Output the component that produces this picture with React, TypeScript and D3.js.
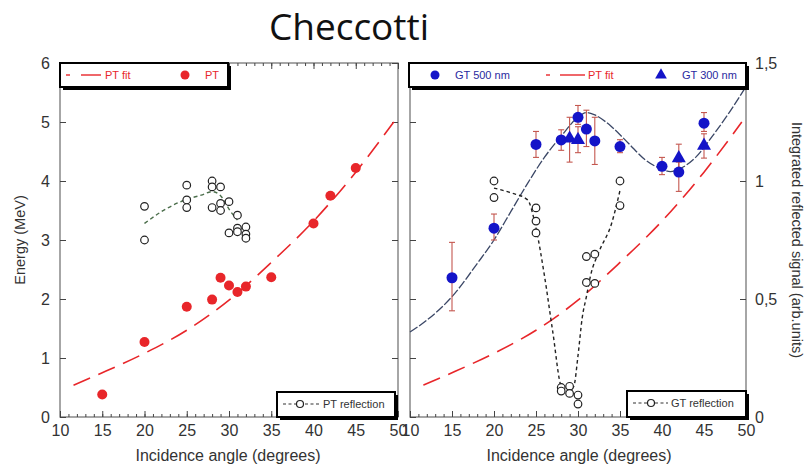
import * as d3 from "d3";
import { useEffect, useRef } from "react";

const W = 808;
const H = 466;
const leftBox = { x0: 60, x1: 398, y0: 63, y1: 417 };
const rightBox = { x0: 410, x1: 746, y0: 63, y1: 417 };
const AXIS_FONT = "'Liberation Sans', Arial, sans-serif";

// left panel: PT energies
const ptAngle = [15, 20, 25, 28, 29, 30, 31, 32, 35, 40, 42, 45];
const ptEnergy = [0.38, 1.27, 1.87, 1.99, 2.36, 2.23, 2.12, 2.21, 2.37, 3.28, 3.75, 4.22];

// PT fit
const ptFitAngle = [11.6, 15, 20, 25, 30, 35, 40, 45, 49.5];
const ptFitEnergy = [0.54, 0.75, 1.08, 1.47, 1.98, 2.62, 3.32, 4.15, 5.0];

// PT reflection (open circles, energy units)
const ptrAngle = [20, 20, 25, 25, 25, 28, 28, 28, 29, 29, 29, 30, 30, 31, 31, 31, 32, 32, 32];
const ptrEnergy = [3.57, 3.0, 3.93, 3.68, 3.55, 4.0, 3.9, 3.55, 3.9, 3.62, 3.5, 3.65, 3.12, 3.42, 3.2, 3.14, 3.22, 3.1, 3.03];
const ptrFitAngle = [20, 22, 25, 26.7, 28, 29, 30.2, 31];
const ptrFitEnergy = [3.28, 3.48, 3.69, 3.76, 3.82, 3.75, 3.48, 3.34];

// right panel: GT 500 nm
const gt500Angle = [15, 20, 25, 28, 30, 31, 32, 35, 40, 42, 45];
const gt500Signal = [0.59, 0.8, 1.155, 1.174, 1.27, 1.22, 1.17, 1.146, 1.062, 1.038, 1.245];
const gt500Low = [0.45, 0.75, 1.1, 1.13, 1.24, 1.146, 1.07, 1.12, 1.027, 0.956, 1.21];
const gt500High = [0.74, 0.86, 1.21, 1.217, 1.32, 1.3, 1.27, 1.175, 1.1, 1.08, 1.29];

// GT 300 nm
const gt300Angle = [29, 30, 42, 45];
const gt300Signal = [1.18, 1.174, 1.097, 1.15];
const gt300Low = [1.08, 1.12, 1.04, 1.097];
const gt300High = [1.27, 1.23, 1.156, 1.2];

// GT fit (blue dashed)
const gtFitAngle = [10, 12, 15, 18, 20, 22, 24, 26, 28, 30, 31, 32, 34, 36, 38, 40, 41, 42, 44, 46, 48, 50];
const gtFitSignal = [0.36, 0.41, 0.51, 0.65, 0.75, 0.87, 0.99, 1.1, 1.19, 1.27, 1.29, 1.28, 1.23, 1.16, 1.09, 1.05, 1.04, 1.05, 1.1, 1.19, 1.29, 1.4];

// GT reflection
const gtrAngle = [20, 20, 25, 25, 25, 28, 28, 29, 29, 30, 30, 31, 32, 31, 32, 35, 35];
const gtrSignal = [1.0, 0.93, 0.886, 0.83, 0.78, 0.125, 0.11, 0.13, 0.1, 0.093, 0.055, 0.68, 0.69, 0.57, 0.566, 1.0, 0.896];
const gtrFitAngle = [20, 22, 24, 25, 26, 27, 28, 28.7, 29.5, 30, 30.5, 31, 31.5, 32.5, 34, 35];
const gtrFitSignal = [0.97, 0.95, 0.92, 0.8, 0.6, 0.36, 0.13, 0.105, 0.13, 0.26, 0.42, 0.51, 0.6, 0.7, 0.82, 0.96];

const xTicks = d3.range(10, 51, 5);
const xMinor = d3.range(10, 51, 1);
const energyTicks = d3.range(0, 7, 1);
const signalTicks = [0, 0.5, 1, 1.5];

const RED = "#e8262a";
const BLUE = "#1414c8";

const styleAxis = (g, size = 16) => {
  g.select(".domain").remove();
  g.selectAll(".tick line").attr("stroke", "#444").attr("stroke-width", 1);
  g.selectAll(".tick text")
    .attr("font-family", AXIS_FONT)
    .attr("font-size", size)
    .attr("fill", "#333");
};

const drawFrame = (svg, box, x) => {
  svg
    .append("rect")
    .attr("x", box.x0)
    .attr("y", box.y0)
    .attr("width", box.x1 - box.x0)
    .attr("height", box.y1 - box.y0)
    .attr("fill", "none")
    .attr("stroke", "#777")
    .attr("stroke-width", 1.3);

  // bottom, labelled
  svg
    .append("g")
    .attr("transform", `translate(0,${box.y1})`)
    .call(d3.axisBottom(x).tickValues(xTicks).tickSizeInner(-6).tickSizeOuter(0).tickPadding(8).tickFormat(d3.format("d")))
    .call((g) => styleAxis(g));
  svg
    .append("g")
    .attr("transform", `translate(0,${box.y1})`)
    .call(d3.axisBottom(x).tickValues(xMinor).tickSize(-3).tickFormat(() => ""))
    .call((g) => styleAxis(g));
  // top, ticks only
  svg
    .append("g")
    .attr("transform", `translate(0,${box.y0})`)
    .call(d3.axisTop(x).tickValues(xTicks).tickSize(-6).tickFormat(() => ""))
    .call((g) => styleAxis(g));
  svg
    .append("g")
    .attr("transform", `translate(0,${box.y0})`)
    .call(d3.axisTop(x).tickValues(xMinor).tickSize(-3).tickFormat(() => ""))
    .call((g) => styleAxis(g));
};

const drawLegend = (svg, x, y, w, h) => {
  svg.append("rect").attr("x", x + 3).attr("y", y + 3).attr("width", w).attr("height", h).attr("fill", "#000");
  svg
    .append("rect")
    .attr("x", x)
    .attr("y", y)
    .attr("width", w)
    .attr("height", h)
    .attr("fill", "#fff")
    .attr("stroke", "#000")
    .attr("stroke-width", 2);
};

const legendText = (svg, x, y, text, color) =>
  svg
    .append("text")
    .attr("x", x)
    .attr("y", y)
    .attr("font-family", AXIS_FONT)
    .attr("font-size", 11)
    .attr("fill", color)
    .text(text);

const App = () => {
  const svgRef = useRef(null);

  useEffect(() => {
    const svg = d3.select(svgRef.current);
    svg.selectAll("*").remove();

    svg.append("rect").attr("width", W).attr("height", H).attr("fill", "#fff");

    // title
    svg
      .append("text")
      .attr("x", 349)
      .attr("y", 40)
      .attr("text-anchor", "middle")
      .attr("font-family", "'Open Sans', sans-serif")
      .attr("font-size", 37)
      .attr("fill", "#111")
      .text("Checcotti");

    const xL = d3.scaleLinear().domain([10, 50]).range([leftBox.x0, leftBox.x1]);
    const xR = d3.scaleLinear().domain([10, 50]).range([rightBox.x0, rightBox.x1]);
    const yE = d3.scaleLinear().domain([0, 6]).range([leftBox.y1, leftBox.y0]);
    const yS = d3.scaleLinear().domain([0, 1.5]).range([rightBox.y1, rightBox.y0]);

    // ---------- left panel ----------
    drawFrame(svg, leftBox, xL);
    svg
      .append("g")
      .attr("transform", `translate(${leftBox.x0},0)`)
      .call(
        d3
          .axisLeft(yE)
          .tickValues(energyTicks)
          .tickSizeInner(-6)
          .tickSizeOuter(0)
          .tickPadding(10)
          .tickFormat(d3.format("d"))
      )
      .call((g) => styleAxis(g));
    svg
      .append("g")
      .attr("transform", `translate(${leftBox.x1},0)`)
      .call(d3.axisRight(yE).tickValues(energyTicks).tickSize(-6).tickFormat(() => ""))
      .call((g) => styleAxis(g));

    const lineL = (xs, ys) =>
      d3
        .line()
        .x((d) => xL(d[0]))
        .y((d) => yE(d[1]))
        .curve(d3.curveMonotoneX)(xs.map((a, i) => [a, ys[i]]));

    svg
      .append("path")
      .attr("d", lineL(ptFitAngle, ptFitEnergy))
      .attr("fill", "none")
      .attr("stroke", RED)
      .attr("stroke-width", 1.6)
      .attr("stroke-dasharray", "18,9");

    svg
      .append("path")
      .attr("d", lineL(ptrFitAngle, ptrFitEnergy))
      .attr("fill", "none")
      .attr("stroke", "#4b6e4b")
      .attr("stroke-width", 1.4)
      .attr("stroke-dasharray", "4,3");

    svg
      .append("g")
      .selectAll("circle")
      .data(ptrAngle.map((a, i) => [a, ptrEnergy[i]]))
      .join("circle")
      .attr("cx", (d) => xL(d[0]))
      .attr("cy", (d) => yE(d[1]))
      .attr("r", 3.8)
      .attr("fill", "#fff")
      .attr("stroke", "#222")
      .attr("stroke-width", 1.2);

    svg
      .append("g")
      .selectAll("circle")
      .data(ptAngle.map((a, i) => [a, ptEnergy[i]]))
      .join("circle")
      .attr("cx", (d) => xL(d[0]))
      .attr("cy", (d) => yE(d[1]))
      .attr("r", 5)
      .attr("fill", RED);

    // left legends
    drawLegend(svg, 60, 63, 168, 24);
    svg.append("line").attr("x1", 66).attr("x2", 70).attr("y1", 75).attr("y2", 75).attr("stroke", RED).attr("stroke-width", 1.4);
    svg.append("line").attr("x1", 81).attr("x2", 101).attr("y1", 75).attr("y2", 75).attr("stroke", RED).attr("stroke-width", 1.4);
    legendText(svg, 105, 79, "PT fit", RED);
    svg.append("circle").attr("cx", 185).attr("cy", 75).attr("r", 4.5).attr("fill", RED);
    legendText(svg, 205, 79, "PT", RED);

    drawLegend(svg, 277, 392, 118, 25);
    svg.append("line").attr("x1", 283).attr("x2", 320).attr("y1", 404).attr("y2", 404).attr("stroke", "#333").attr("stroke-width", 1.2).attr("stroke-dasharray", "3,2.5");
    svg.append("circle").attr("cx", 300).attr("cy", 404).attr("r", 3.5).attr("fill", "#fff").attr("stroke", "#222").attr("stroke-width", 1.2);
    legendText(svg, 323, 408, "PT reflection", "#333");

    // ---------- right panel ----------
    drawFrame(svg, rightBox, xR);
    svg
      .append("g")
      .attr("transform", `translate(${rightBox.x0},0)`)
      .call(d3.axisLeft(yE).tickValues(energyTicks).tickSize(-6).tickFormat(() => ""))
      .call((g) => styleAxis(g));
    svg
      .append("g")
      .attr("transform", `translate(${rightBox.x1},0)`)
      .call(
        d3
          .axisRight(yS)
          .tickValues(signalTicks)
          .tickSizeInner(-6)
          .tickSizeOuter(0)
          .tickPadding(9)
          .tickFormat((d) => String(d).replace(".", ","))
      )
      .call((g) => styleAxis(g));

    const lineR = (xs, ys, y) =>
      d3
        .line()
        .x((d) => xR(d[0]))
        .y((d) => y(d[1]))
        .curve(d3.curveMonotoneX)(xs.map((a, i) => [a, ys[i]]));

    svg
      .append("path")
      .attr("d", lineR(ptFitAngle, ptFitEnergy, yE))
      .attr("fill", "none")
      .attr("stroke", RED)
      .attr("stroke-width", 1.6)
      .attr("stroke-dasharray", "18,9");

    svg
      .append("path")
      .attr("d", lineR(gtFitAngle, gtFitSignal, yS))
      .attr("fill", "none")
      .attr("stroke", "#3b4766")
      .attr("stroke-width", 1.3)
      .attr("stroke-dasharray", "9,2");

    svg
      .append("path")
      .attr("d", lineR(gtrFitAngle, gtrFitSignal, yS))
      .attr("fill", "none")
      .attr("stroke", "#222")
      .attr("stroke-width", 1.4)
      .attr("stroke-dasharray", "3.5,3");

    svg
      .append("g")
      .selectAll("circle")
      .data(gtrAngle.map((a, i) => [a, gtrSignal[i]]))
      .join("circle")
      .attr("cx", (d) => xR(d[0]))
      .attr("cy", (d) => yS(d[1]))
      .attr("r", 3.8)
      .attr("fill", "#fff")
      .attr("stroke", "#222")
      .attr("stroke-width", 1.2);

    const errBars = (angles, lo, hi) => {
      const g = svg.append("g").attr("stroke", "#c4574f").attr("stroke-width", 1.1);
      angles.forEach((a, i) => {
        const cx = xR(a);
        g.append("line").attr("x1", cx).attr("x2", cx).attr("y1", yS(lo[i])).attr("y2", yS(hi[i]));
        g.append("line").attr("x1", cx - 3).attr("x2", cx + 3).attr("y1", yS(lo[i])).attr("y2", yS(lo[i]));
        g.append("line").attr("x1", cx - 3).attr("x2", cx + 3).attr("y1", yS(hi[i])).attr("y2", yS(hi[i]));
      });
    };
    errBars(gt500Angle, gt500Low, gt500High);
    errBars(gt300Angle, gt300Low, gt300High);

    svg
      .append("g")
      .selectAll("circle")
      .data(gt500Angle.map((a, i) => [a, gt500Signal[i]]))
      .join("circle")
      .attr("cx", (d) => xR(d[0]))
      .attr("cy", (d) => yS(d[1]))
      .attr("r", 5.5)
      .attr("fill", BLUE);

    const tri = d3.symbol(d3.symbolTriangle).size(85);
    svg
      .append("g")
      .selectAll("path")
      .data(gt300Angle.map((a, i) => [a, gt300Signal[i]]))
      .join("path")
      .attr("d", tri)
      .attr("transform", (d) => `translate(${xR(d[0])},${yS(d[1])})`)
      .attr("fill", BLUE);

    // right legends
    drawLegend(svg, 409, 63, 337, 24);
    svg.append("circle").attr("cx", 435).attr("cy", 75).attr("r", 4.5).attr("fill", BLUE);
    legendText(svg, 455, 79, "GT 500 nm", "#2a2aa0");
    svg.append("line").attr("x1", 546).attr("x2", 550).attr("y1", 75).attr("y2", 75).attr("stroke", RED).attr("stroke-width", 1.4);
    svg.append("line").attr("x1", 560).attr("x2", 585).attr("y1", 75).attr("y2", 75).attr("stroke", RED).attr("stroke-width", 1.4);
    legendText(svg, 588, 79, "PT fit", RED);
    svg
      .append("path")
      .attr("d", d3.symbol(d3.symbolTriangle).size(60)())
      .attr("transform", "translate(661,75)")
      .attr("fill", BLUE);
    legendText(svg, 682, 79, "GT 300 nm", "#2a2aa0");

    drawLegend(svg, 627, 391, 119, 26);
    svg.append("line").attr("x1", 633).attr("x2", 668).attr("y1", 403).attr("y2", 403).attr("stroke", "#333").attr("stroke-width", 1.2).attr("stroke-dasharray", "3,2.5");
    svg.append("circle").attr("cx", 651).attr("cy", 403).attr("r", 3.5).attr("fill", "#fff").attr("stroke", "#222").attr("stroke-width", 1.2);
    legendText(svg, 671, 407, "GT reflection", "#333");

    // axis titles
    const title = (x, y, text, rotate, size) =>
      svg
        .append("text")
        .attr("transform", `translate(${x},${y}) rotate(${rotate})`)
        .attr("text-anchor", "middle")
        .attr("font-family", AXIS_FONT)
        .attr("font-size", size)
        .attr("fill", "#333")
        .text(text);

    title(228, 461, "Incidence angle (degrees)", 0, 16);
    title(579, 461, "Incidence angle (degrees)", 0, 16);
    title(25, 240, "Energy (MeV)", -90, 14.5);
    title(792, 240, "Integrated reflected signal (arb.units)", 90, 14.5);
  }, []);

  return (
    <svg
      ref={svgRef}
      width={W}
      height={H}
      style={{ position: "absolute", left: 0, top: 0 }}
    />
  );
};

export default App;
